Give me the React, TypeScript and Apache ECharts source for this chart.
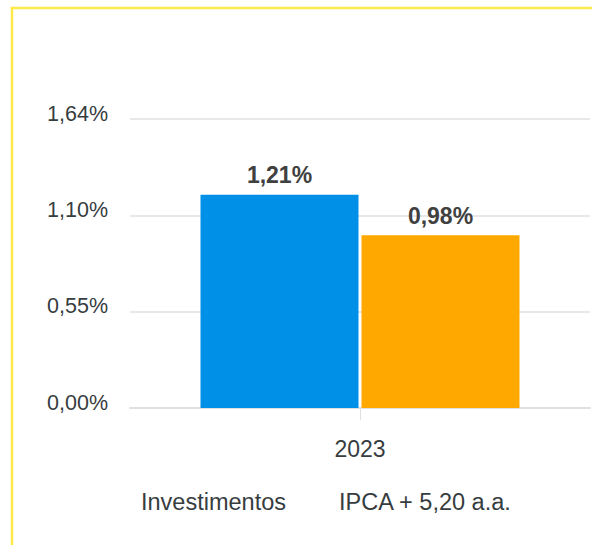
import React, { useEffect, useRef } from "react";
import * as echarts from "echarts";

const categories = ["2023"];
const seriesNames = ["Investimentos", "IPCA + 5,20 a.a."];
const investimentos = [1.21];
const ipca = [0.98];
const yTickLabels = ["0,00%", "0,55%", "1,10%", "1,64%"];
const yMax = 1.64;

const FONT = "'Liberation Sans', Arial, Helvetica, sans-serif";
const TEXT = "#373d3f";

const fmtPct = (v: number) => v.toFixed(2).replace(".", ",") + "%";

export default function App() {
  const ref = useRef<HTMLDivElement>(null);
  useEffect(() => {
    if (!ref.current) return;
    const chart = echarts.init(ref.current, undefined, { renderer: "svg" });
    const interval = yMax / 3;
    const barLabel = {
      show: true,
      position: "top",
      distance: 8,
      fontFamily: FONT,
      fontSize: 23,
      fontWeight: "bold",
      color: "#404040",
      formatter: (p: any) => fmtPct(p.value),
    };
    chart.setOption({
      animation: false,
      backgroundColor: "#ffffff",
      textStyle: { fontFamily: FONT },
      grid: { left: 130, right: 2, top: 119, bottom: 137, containLabel: false },
      legend: {
        data: seriesNames,
        left: 131,
        top: 485,
        icon: "none",
        itemWidth: 0,
        itemHeight: 23,
        itemGap: 48,
        selectedMode: false,
        textStyle: { fontFamily: FONT, fontSize: 23.5, color: TEXT },
      },
      xAxis: {
        type: "category",
        data: categories,
        axisLine: { show: true, lineStyle: { color: "#e0e0e0", width: 2 } },
        axisTick: { show: true, alignWithLabel: true, length: 12, lineStyle: { color: "#e0e0e0", width: 1 } },
        axisLabel: { fontFamily: FONT, fontSize: 23, color: TEXT, margin: 29 },
        splitLine: { show: false },
      },
      yAxis: {
        type: "value",
        min: 0,
        max: yMax,
        interval,
        axisLine: { show: false },
        axisTick: { show: false },
        axisLabel: {
          fontFamily: FONT,
          fontSize: 21.5,
          color: TEXT,
          margin: 22,
          verticalAlign: "bottom",
          lineHeight: 11,
          formatter: (v: number) => yTickLabels[Math.round(v / interval)] ?? "",
        },
        splitLine: { show: true, lineStyle: { color: "#e0e0e0", width: 1.5 } },
      },
      series: [
        {
          name: seriesNames[0],
          type: "bar",
          data: investimentos,
          barWidth: 158,
          barGap: "1.9%",
          itemStyle: { color: "#0090e8" },
          label: barLabel,
        },
        {
          name: seriesNames[1],
          type: "bar",
          data: ipca,
          barWidth: 158,
          itemStyle: { color: "#ffa800" },
          label: barLabel,
        },
      ],
      graphic: [
        {
          type: "line",
          shape: { x1: 10.5, y1: 8, x2: 592, y2: 8 },
          style: { stroke: "#ffe94a", lineWidth: 2.5 },
          z: 100,
        },
        {
          type: "line",
          shape: { x1: 12, y1: 7, x2: 12, y2: 545 },
          style: { stroke: "#ffe94a", lineWidth: 2.5 },
          z: 100,
        },
      ],
    });
    return () => chart.dispose();
  }, []);
  return (
    <div style={{ position: "fixed", left: 0, top: 0, width: 592, height: 545, overflow: "hidden", background: "#fff" }}>
      <div ref={ref} style={{ width: 592, height: 545 }} />
    </div>
  );
}
